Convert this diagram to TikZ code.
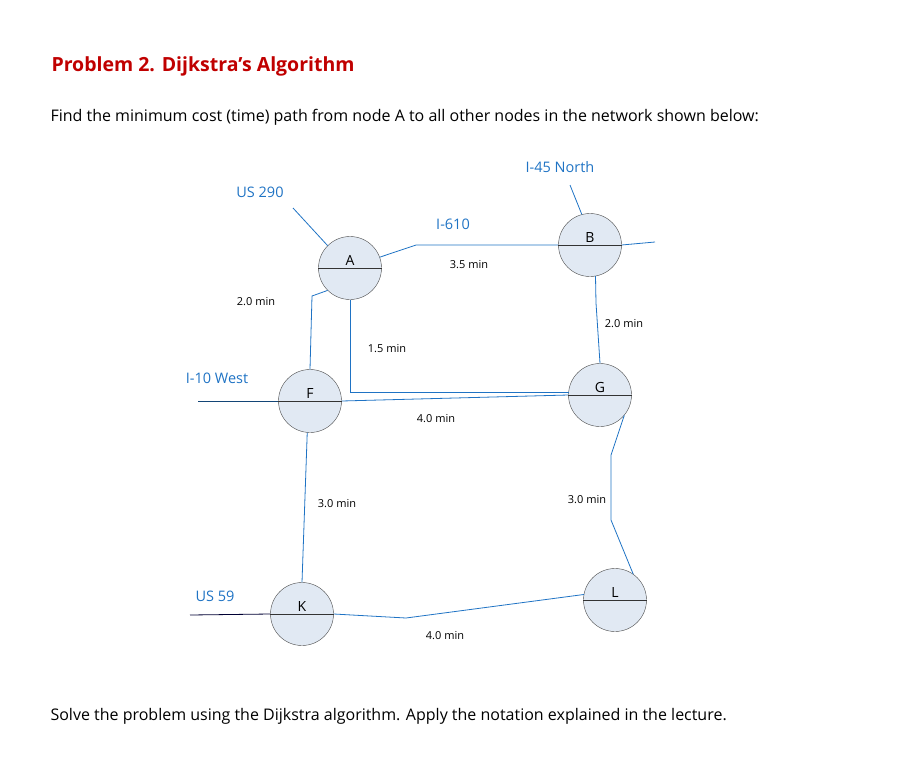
\documentclass[tikz,border=0pt]{standalone}
\usepackage{fontspec}
\setmainfont{Open Sans}
\definecolor{road}{HTML}{1F73C4}
\definecolor{fillc}{HTML}{E1E9F3}
\definecolor{titlec}{HTML}{C00000}
\begin{document}
\begin{tikzpicture}[x=1pt,y=-1pt,
  nd/.style={circle,draw=black!70,fill=fillc,minimum size=63pt,inner sep=0pt},
  rd/.style={draw=road,line width=0.8pt},
  rl/.style={text=road,font=\fontsize{14.5}{17}\selectfont},
  wl/.style={font=\fontsize{11}{13}\selectfont},
  lt/.style={font=\fontsize{14}{16}\selectfont}]
\useasboundingbox (0,0) rectangle (916,766);
\node[anchor=west,text=titlec,font=\fontsize{19.5}{23}\selectfont\bfseries] (title) at (48,66) {Problem 2. Dijkstra’s Algorithm};
\node[anchor=west,font=\fontsize{16}{19}\selectfont] (intro) at (47,117) {Find the minimum cost (time) path from node A to all other nodes in the network shown below:};
\node[anchor=west,font=\fontsize{16}{19}\selectfont] (outro) at (47,716) {Solve the problem using the Dijkstra algorithm. Apply the notation explained in the lecture.};
% roads
\coordinate (u290) at (293,208); \coordinate (i45) at (570,185);
\coordinate (bR) at (655,242); \coordinate (i10) at (198,401); \coordinate (u59) at (190,615);
\coordinate (ab) at (416,245); \coordinate (bg) at (596,303);
\coordinate (ag) at (350,392); \coordinate (af) at (312,296); \coordinate (ge) at (569,392);
\coordinate (gl1) at (611,455); \coordinate (gl2) at (611,520); \coordinate (kl) at (406,618);
\foreach \n/\x/\y in {A/350/268,B/590/245,F/310/401,G/600/395,K/302/614,L/615/600}{
  \node[nd] (\n) at (\x,\y) {};
}
\draw[rd] (u290) -- (A.135);
\draw[rd] (A.20) -- (ab) -- (B.west);
\draw[rd] (B.east) -- (bR);
\draw[rd] (i45) -- (B.105);
\draw[rd] (B.-80) -- (bg) -- (G.90);
\draw[rd] (A.south) -- (ag) -- (ge);
\draw[rd] (F.east) -- (G.west);
\draw[rd] (A.-135) -- (af) -- (F.north);
\draw[road!60!black,line width=0.8pt] (i10) -- (F.west);
\draw[rd] (F.-95) -- (K.north);
\draw[rd] (G.-40) -- (gl1) -- (gl2) -- (L.55);
\draw[rd] (K.east) -- (kl) -- (L.170);
\draw[black!80!blue,line width=0.8pt] (u59) -- (K.west);
% dividers and letters
\foreach \n in {A,B,F,G,K,L}{
  \draw[black!80,line width=0.7pt] (\n.west) -- (\n.east);
  \node[lt,anchor=south,inner sep=2pt] (l\n) at (\n.center) {\n};
}
% road labels
\node[rl] (t290) at (260,192) {US 290};
\node[rl] (t610) at (453,224) {I-610};
\node[rl] (t45) at (560,167) {I-45 North};
\node[rl] (t10) at (217,378) {I-10 West};
\node[rl] (t59) at (215,596) {US 59};
% weights
\node[wl] (w1) at (256,302) {2.0 min};
\node[wl] (w2) at (387,349) {1.5 min};
\node[wl] (w3) at (469,265) {3.5 min};
\node[wl] (w4) at (624,324) {2.0 min};
\node[wl] (w5) at (436,419) {4.0 min};
\node[wl] (w6) at (337,504) {3.0 min};
\node[wl] (w7) at (587,500) {3.0 min};
\node[wl] (w8) at (445,636) {4.0 min};
\end{tikzpicture}
\end{document}
